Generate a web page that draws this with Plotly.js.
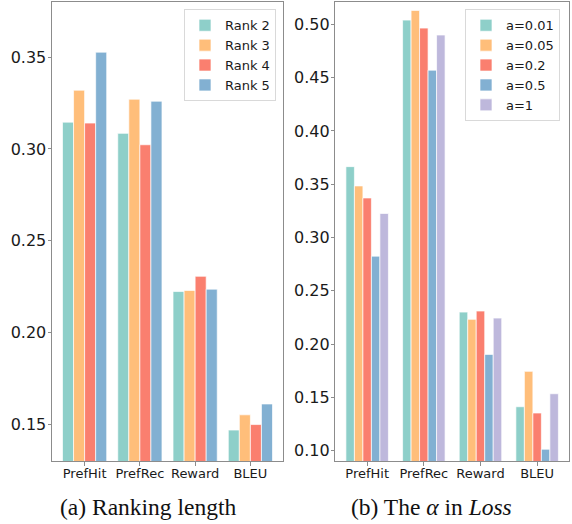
<!DOCTYPE html>
<html>
<head>
<meta charset="utf-8">
<script src="https://cdn.plot.ly/plotly-3.0.1.min.js"></script>
<style>html,body{margin:0;padding:0;background:#fff;}#chart{width:572px;height:524px;}</style>
</head>
<body>
<div id="chart"></div>
<script>
// ---- data ----
const metrics = ["PrefHit", "PrefRec", "Reward", "BLEU"];

const rankNames = ["Rank 2", "Rank 3", "Rank 4", "Rank 5"];
const rank2 = [0.3146, 0.3085, 0.2224, 0.1470];
const rank3 = [0.3320, 0.3271, 0.2230, 0.1553];
const rank4 = [0.3141, 0.3023, 0.2307, 0.1500];
const rank5 = [0.3527, 0.3260, 0.2237, 0.1612];

const alphaNames = ["a=0.01", "a=0.05", "a=0.2", "a=0.5", "a=1"];
const a001 = [0.3665, 0.5040, 0.2300, 0.1412];
const a005 = [0.3484, 0.5131, 0.2232, 0.1744];
const a02  = [0.3371, 0.4965, 0.2310, 0.1353];
const a05  = [0.2825, 0.4570, 0.1903, 0.1013];
const a1   = [0.3225, 0.4900, 0.2244, 0.1534];

const leftTicks = [0.15, 0.20, 0.25, 0.30, 0.35];
const rightTicks = [0.10, 0.15, 0.20, 0.25, 0.30, 0.35, 0.40, 0.45, 0.50];

// ---- style ----
const colors = ["#8ECFC9", "#FFBE7A", "#FA7F6F", "#82B0D2", "#BEB8DC"];
const edge = {color: "rgba(255,255,255,0.85)", width: 0.8};

const traces = [];
const leftSeries = [rank2, rank3, rank4, rank5];
leftSeries.forEach((vals, i) => {
  traces.push({
    type: "bar", x: metrics.map((m, k) => k), y: vals, name: rankNames[i],
    width: 0.2, offset: -0.4 + i * 0.2,
    marker: {color: colors[i], line: edge},
    xaxis: "x", yaxis: "y", legend: "legend"
  });
});
const rightSeries = [a001, a005, a02, a05, a1];
rightSeries.forEach((vals, i) => {
  traces.push({
    type: "bar", x: metrics.map((m, k) => k), y: vals, name: alphaNames[i],
    width: 0.15, offset: -0.375 + i * 0.15,
    marker: {color: colors[i], line: edge},
    xaxis: "x2", yaxis: "y2", legend: "legend2"
  });
});

const frame = "#8c8c8c";
const tickFont = {family: "DejaVu Sans", size: 13, color: "#1a1a1a"};
const yTickFont = {family: "DejaVu Sans", size: 16, color: "#1a1a1a"};
const commonX = {
  showline: true, mirror: true, linecolor: frame, linewidth: 1,
  ticks: "outside", ticklen: 3.5, tickcolor: frame, tickwidth: 1,
  showgrid: false, zeroline: false, tickfont: tickFont,
  tickmode: "array", tickvals: [0, 1, 2, 3], ticktext: metrics,
  ticklabelstandoff: -3, fixedrange: true
};
const commonY = {
  showline: true, mirror: true, linecolor: frame, linewidth: 1,
  ticks: "outside", ticklen: 3.5, tickcolor: frame, tickwidth: 1,
  showgrid: false, zeroline: false, tickfont: yTickFont,
  tickformat: ".2f", tickmode: "array", ticklabelstandoff: -2, fixedrange: true
};

const legendCommon = {
  bgcolor: "rgba(255,255,255,0.9)", bordercolor: "#d9d9d9", borderwidth: 1,
  font: {family: "DejaVu Sans", size: 13, color: "#1a1a1a"},
  xanchor: "right", yanchor: "top", tracegroupgap: 0, itemclick: false
};

const layout = {
  width: 572, height: 524,
  margin: {l: 0, r: 0, t: 0, b: 0},
  paper_bgcolor: "#fff", plot_bgcolor: "#fff",
  barmode: "overlay",
  showlegend: true,
  xaxis: Object.assign({}, commonX, {domain: [52/572, 283/572], range: [-0.59, 3.59], anchor: "y"}),
  yaxis: Object.assign({}, commonY, {domain: [1 - 461.3/524, 1 - 2/524], range: [0.13, 0.38], tickvals: leftTicks, anchor: "x"}),
  xaxis2: Object.assign({}, commonX, {domain: [335.3/572, 569/572], range: [-0.5625, 3.5625], anchor: "y2"}),
  yaxis2: Object.assign({}, commonY, {domain: [1 - 461.3/524, 1 - 2/524], range: [0.09, 0.521], tickvals: rightTicks, anchor: "x2"}),
  legend: Object.assign({}, legendCommon, {x: 276/572, y: 1 - 9.3/524}),
  legend2: Object.assign({}, legendCommon, {x: 560/572, y: 1 - 9.3/524}),
  annotations: [
    {xref: "paper", yref: "paper", x: 147.5/572, y: 1 - 507/524, xanchor: "center", yanchor: "middle",
     showarrow: false, text: "(a) Ranking length",
     font: {family: "Liberation Serif", size: 23.5, color: "#111"}},
    {xref: "paper", yref: "paper", x: 431/572, y: 1 - 507/524, xanchor: "center", yanchor: "middle",
     showarrow: false, text: "(b) The <i>α</i> in <i>Loss</i>",
     font: {family: "Liberation Serif", size: 23.5, color: "#111"}}
  ]
};

Plotly.newPlot("chart", traces, layout, {displayModeBar: false, staticPlot: true});
</script>
</body>
</html>
